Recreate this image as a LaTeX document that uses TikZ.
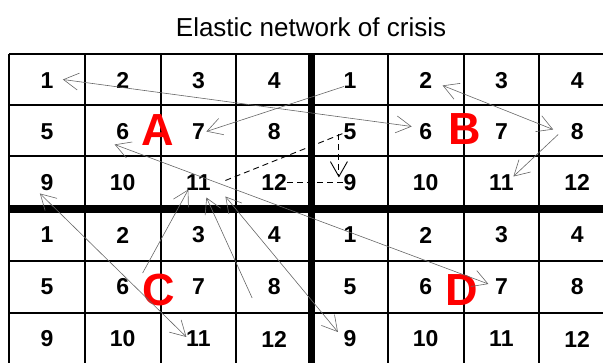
\documentclass[tikz,border=0pt]{standalone}
\usepackage{fontspec}
\setmainfont{Liberation Sans}
\usetikzlibrary{arrows.meta, calc}

\begin{document}
\begin{tikzpicture}[x=1pt, y=-1pt,
    cellnum/.style={font=\fontsize{23}{23}\selectfont\bfseries, inner sep=0pt},
    zone/.style={font=\fontsize{45}{45}\selectfont\bfseries, text=red, inner sep=0pt},
    link/.style={draw=black!60, line width=0.6pt},
    dlink/.style={draw=black, line width=0.9pt, dash pattern=on 6pt off 4pt},
    >={Straight Barb[length=15pt, width=17pt]}]
    \useasboundingbox (0,0) rectangle (603,363);
    \clip (0,0) rectangle (603,363);

    % Title
    \node[font=\fontsize{26}{26}\selectfont] (title) at (311,27) {Elastic network of crisis};

    % Grid
    \foreach \i in {0,...,8}
        \draw[line width=2pt] ({9+75.75*\i},54) -- ({9+75.75*\i},366);
    \foreach \gy in {54,105,156,261,313,365}
        \draw[line width=2pt] (9,\gy) -- (616,\gy);
    \draw[line width=7pt] (311,54) -- (311,366);
    \draw[line width=8pt] (9,209) -- (616,209);

    % Cell numbers
    \foreach \q/\ox/\oy in {a/0/0, b/4/0, c/0/3, d/4/3} {
        \foreach \n in {1,...,12} {
            \pgfmathtruncatemacro\col{\ox+mod(\n-1,4)}
            \pgfmathtruncatemacro\row{\oy+div(\n-1,4)}
            \pgfmathsetmacro\cx{46.9+75.75*\col}
            \pgfmathsetmacro\cy{\row<3 ? 80.5+51*\row : 235+52*(\row-3)}
            \node[cellnum] (\q\n) at (\cx,\cy) {\n};
        }
    }

    % Zone letters
    \node[zone] (za) at (158,130) {A};
    \node[zone] (zb) at (465,129) {B};
    \node[zone] (zc) at (159,290) {C};
    \node[zone] (zd) at (462,290) {D};

    % Arrows
    \draw[link, <->] ($(a1)+(16,-1)$) -- ($(b6)+(-14,-5)$);
    \draw[link, ->] ($(b1)+(-6,6)$) -- ($(a7)+(8,0)$);
    \draw[link, <->] ($(a6)+(-8,13)$) -- ($(d7)+(-13,-3)$);
    \draw[link, <->] ($(a9)+(-7,11)$) -- ($(c11)+(-12,-2)$);
    \draw[link, ->] ($(c6)+(20,-14)$) -- ($(a11)+(-10,7)$);
    \draw[link, ->] ($(c8)+(-22,11)$) -- ($(a11)+(8,15)$);
    \draw[link, <->] ($(a11)+(27,14)$) -- ($(d9)+(-12,-7)$);
    \draw[link, <->] ($(b2)+(17,5)$) -- ($(b8)+(-24,-2)$);
    \draw[link, ->] ($(b8)+(-19,3)$) -- ($(b11)+(12,-6)$);

    % Dashed links
    \draw[dlink] ($(a11)+(27,-2)$) -- ($(b5)+(-7,2)$);
    \draw[dlink, ->] ($(b5)+(-11,3)$) -- ($(b9)+(-11,-5)$);
    \draw[dlink] ($(a12)+(13,0)$) -- ($(b9)+(-5,0)$);
\end{tikzpicture}
\end{document}
